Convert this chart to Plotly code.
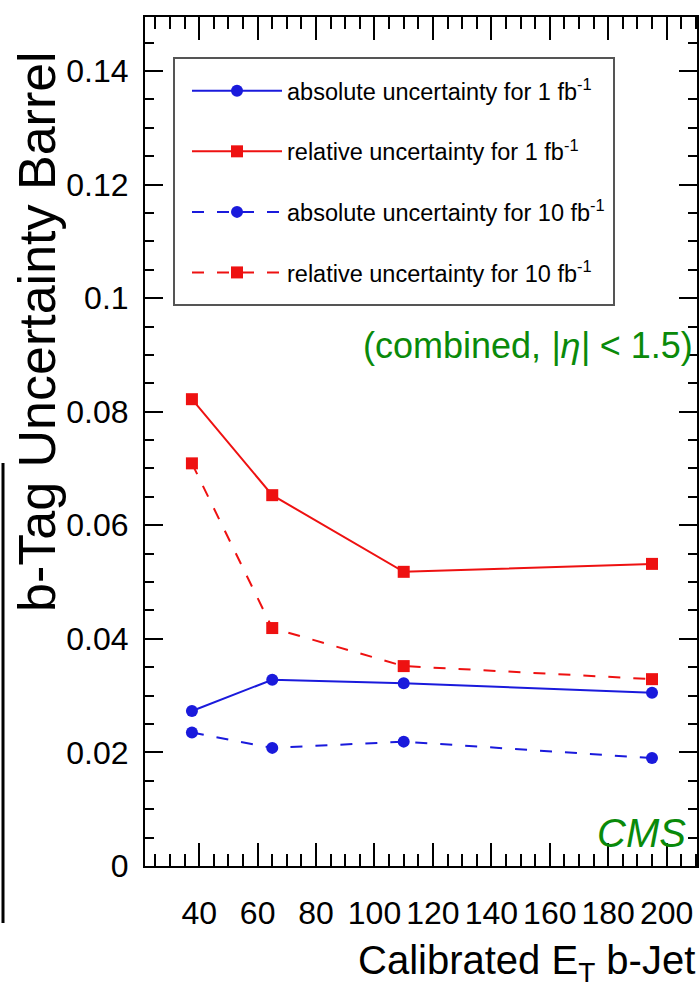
import plotly.graph_objects as go

# ---- data ----
et_bins = [37.5, 65, 110, 195]
abs_unc_1fb = [0.0273, 0.0328, 0.0322, 0.0305]
rel_unc_1fb = [0.0822, 0.0653, 0.0518, 0.0532]
abs_unc_10fb = [0.0235, 0.0208, 0.0219, 0.0190]
rel_unc_10fb = [0.0709, 0.0419, 0.0352, 0.0329]

series_names = [
    "absolute uncertainty for 1 fb<sup>-1</sup>",
    "relative uncertainty for 1 fb<sup>-1</sup>",
    "absolute uncertainty for 10 fb<sup>-1</sup>",
    "relative uncertainty for 10 fb<sup>-1</sup>",
]

FONT = "Liberation Sans, Arial, Helvetica, sans-serif"
BLUE = "#1a1adc"
RED = "#ee1111"
GREEN = "#0a8a0a"

fig = go.Figure()
specs = [
    (abs_unc_1fb, BLUE, "solid", "circle"),
    (rel_unc_1fb, RED, "solid", "square"),
    (abs_unc_10fb, BLUE, "12px,13px", "circle"),
    (rel_unc_10fb, RED, "12px,13px", "square"),
]
for i, (vals, col, dash, sym) in enumerate(specs):
    fig.add_trace(go.Scatter(
        x=et_bins, y=vals, mode="lines+markers", name=series_names[i],
        legendgroup=f"g{i}",
        line=dict(color=col, width=2, dash=dash),
        marker=dict(color=col, size=12, symbol=sym),
    ))

W, H = 700, 999
L, R, T, B = 145, 3, 17, 133
pw, ph = W - L - R, H - T - B

def px(xpix):
    return (xpix - L) / pw

def py(ypix):
    return (H - B - ypix) / ph

fig.update_layout(
    width=W, height=H,
    margin=dict(l=L, r=R, t=T, b=B, autoexpand=False),
    paper_bgcolor="white", plot_bgcolor="white",
    font=dict(family=FONT, color="black"),
    showlegend=True,
    legend=dict(
        x=px(187), y=py(69), xanchor="left", yanchor="top",
        bgcolor="rgba(0,0,0,0)", borderwidth=0,
        font=dict(family=FONT, size=23.5, color="black"),
        itemwidth=90, tracegroupgap=27,
    ),
    xaxis=dict(
        range=[21.44, 210.4], tick0=0, dtick=20, tickangle=0, automargin=False,
        ticks="inside", ticklen=23, tickwidth=1.5, tickcolor="black",
        minor=dict(dtick=5, ticks="inside", ticklen=12, tickcolor="black", tickwidth=1.5),
        showline=True, linecolor="black", linewidth=2, mirror="allticks",
        showgrid=False, zeroline=False,
        tickfont=dict(family=FONT, size=32, color="black"),
        ticklabelstandoff=18,
    ),
    yaxis=dict(
        range=[0, 0.1495], tick0=0, dtick=0.02, automargin=False,
        ticks="inside", ticklen=18, tickwidth=1.5, tickcolor="black",
        minor=dict(dtick=0.005, ticks="inside", ticklen=9, tickcolor="black", tickwidth=1.5),
        showline=True, linecolor="black", linewidth=2, mirror="allticks",
        showgrid=False, zeroline=False,
        tickfont=dict(family=FONT, size=32, color="black"),
        ticklabelstandoff=8,
    ),
    shapes=[
        dict(type="rect", xref="paper", yref="paper",
             x0=px(174), x1=px(614), y0=py(305), y1=py(58),
             line=dict(color="#555555", width=2), fillcolor="rgba(0,0,0,0)", layer="below"),
        dict(type="line", xref="paper", yref="paper",
             x0=px(3), x1=px(3), y0=py(463), y1=py(923),
             line=dict(color="black", width=3)),
    ],
    annotations=[
        dict(text="b-Tag Uncertainty Barrel", textangle=-90,
             xref="paper", yref="paper", x=px(37), y=py(332),
             xanchor="center", yanchor="middle", showarrow=False,
             font=dict(family=FONT, size=52, color="black")),
        dict(text="Calibrated E<sub>T</sub> b-Jet",
             xref="paper", yref="paper", x=px(697), y=py(963),
             xanchor="right", yanchor="middle", showarrow=False,
             font=dict(family=FONT, size=40, color="black")),
        dict(text="(combined, <i>|η|</i> < 1.5)",
             xref="paper", yref="paper", x=px(695), y=py(345),
             xanchor="right", yanchor="middle", showarrow=False,
             font=dict(family=FONT, size=36, color=GREEN)),
        dict(text="<i>CMS</i>",
             xref="paper", yref="paper", x=px(641), y=py(833),
             xanchor="center", yanchor="middle", showarrow=False,
             font=dict(family=FONT, size=40, color=GREEN)),
    ],
)

fig.write_html(
    "out.html",
    config={"displayModeBar": False},
    post_script="document.body.style.margin='0';document.body.style.padding='0';"
                "document.documentElement.style.overflow='hidden';",
)
